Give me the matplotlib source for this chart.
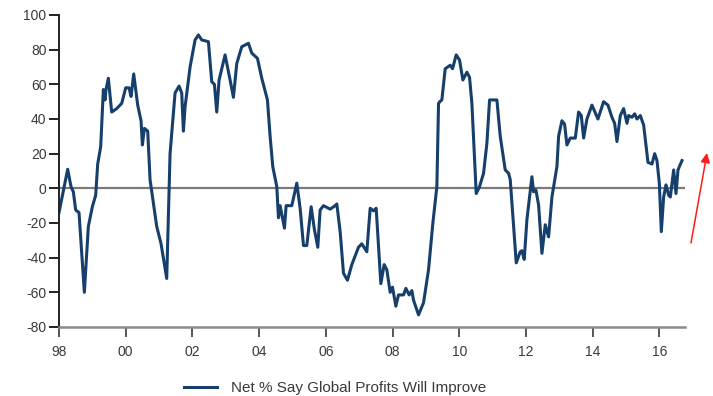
import matplotlib
matplotlib.use("Agg")
import matplotlib.pyplot as plt
from matplotlib import font_manager

# ── dati: anno decimale / saldo % ────────────────────────────
YEARS = [
    1998.00, 1998.26, 1998.36, 1998.43, 1998.50, 1998.60, 1998.76, 1998.88,
    1999.00, 1999.10, 1999.16, 1999.25, 1999.33, 1999.38, 1999.41, 1999.48,
    1999.58, 1999.73, 1999.88, 2000.00, 2000.10, 2000.16, 2000.24, 2000.36,
    2000.46, 2000.50, 2000.56, 2000.66, 2000.73, 2000.93, 2001.06, 2001.23,
    2001.33, 2001.48, 2001.60, 2001.68, 2001.73, 2001.78, 2001.93, 2002.08,
    2002.18, 2002.28, 2002.48, 2002.58, 2002.66, 2002.73, 2002.80, 2002.98,
    2003.13, 2003.23, 2003.33, 2003.48, 2003.68, 2003.78, 2003.95, 2004.08,
    2004.25, 2004.33, 2004.41, 2004.53, 2004.58, 2004.63, 2004.76, 2004.81,
    2004.98, 2005.13, 2005.23, 2005.33, 2005.43, 2005.56, 2005.66, 2005.76,
    2005.83, 2005.93, 2006.03, 2006.13, 2006.28, 2006.33, 2006.43, 2006.53,
    2006.65, 2006.78, 2006.98, 2007.08, 2007.23, 2007.33, 2007.43, 2007.51,
    2007.65, 2007.75, 2007.83, 2007.93, 2008.00, 2008.10, 2008.18, 2008.33,
    2008.40, 2008.50, 2008.58, 2008.63, 2008.78, 2008.93, 2009.08, 2009.21,
    2009.33, 2009.38, 2009.42, 2009.48, 2009.58, 2009.73, 2009.80, 2009.91,
    2010.01, 2010.11, 2010.23, 2010.31, 2010.38, 2010.51, 2010.61, 2010.73,
    2010.83, 2010.91, 2011.13, 2011.23, 2011.38, 2011.48, 2011.53, 2011.63,
    2011.71, 2011.83, 2011.88, 2011.95, 2012.03, 2012.18, 2012.23, 2012.30,
    2012.38, 2012.48, 2012.58, 2012.68, 2012.78, 2012.93, 2012.98, 2013.08,
    2013.16, 2013.23, 2013.33, 2013.48, 2013.58, 2013.66, 2013.73, 2013.83,
    2013.98, 2014.16, 2014.33, 2014.46, 2014.58, 2014.66, 2014.73, 2014.83,
    2014.93, 2015.03, 2015.08, 2015.18, 2015.26, 2015.33, 2015.43, 2015.53,
    2015.66, 2015.78, 2015.86, 2015.93, 2016.00, 2016.06, 2016.13, 2016.20,
    2016.28, 2016.33, 2016.43, 2016.50, 2016.56, 2016.60, 2016.68,
]
NET_PCT = [
    -14, 11, 1, -2, -12.5, -14, -60, -22,
    -10.6, -4, 14, 24, 57, 51, 57, 63.5,
    44, 46, 49, 58, 58, 53, 66, 48,
    39, 25, 34.6, 33, 5, -22, -32, -52,
    20, 55, 59, 55, 33, 47, 70, 85.6,
    88.5, 85.6, 84.6, 61.5, 60, 44, 62.5, 77,
    62.5, 52.5, 72, 81.7, 83.7, 78, 75, 63.5,
    51, 30, 12.5, 1, -17, -10, -23, -10,
    -10, 3, -11.5, -33, -33, -10.6, -24, -34,
    -12.5, -10, -11, -12, -10, -9, -25, -49,
    -53, -44, -34, -32, -36.6, -11.5, -13, -11.5,
    -55, -44, -47, -60, -57, -68, -61.5, -61.5,
    -57.7, -61.5, -59, -64.5, -73, -66, -47, -20,
    1, 49, 50, 51, 69, 71, 69, 77,
    74, 62.5, 67, 64, 49, -3, 1, 8.7,
    26, 51, 51, 30, 10.6, 8.7, 5, -22,
    -43, -36.6, -36, -41, -18, 6.7, -2, -1,
    -9.6, -37.5, -21, -28, -5, 12.5, 30, 39,
    37, 25, 29, 29, 44, 42, 29, 40,
    48, 40, 50, 48, 41, 37.5, 27, 42,
    46, 37.5, 42, 41, 43, 40, 42, 36.5,
    15, 14, 20, 16, 3, -25, -5, 2,
    -4, -5, 10.6, -3, 10.6, 12.5, 16,
]
X_TICKS = [1998, 2000, 2002, 2004, 2006, 2008, 2010, 2012, 2014, 2016]
X_LABELS = ["98", "00", "02", "04", "06", "08", "10", "12", "14", "16"]
Y_TICKS = [-80, -60, -40, -20, 0, 20, 40, 60, 80, 100]
SERIES_LABEL = "Net % Say Global Profits Will Improve"

NAVY = "#173f6b"
TEXT_GREY = "#3a3a3a"

# font stretto se disponibile
installed = {f.name for f in font_manager.fontManager.ttflist}
narrow = "Liberation Sans Narrow" if "Liberation Sans Narrow" in installed else "Liberation Sans"
plt.rcParams["font.family"] = [narrow, "DejaVu Sans"]
plt.rcParams["axes.unicode_minus"] = False

fig = plt.figure(figsize=(7.13, 3.96), dpi=100)
ax = fig.add_axes([59 / 713, 69 / 396, (685 - 59) / 713, (327 - 15) / 396])

ax.axhline(0, color="#7a7a7a", lw=1.6, zorder=1)
ax.plot(YEARS, NET_PCT, color=NAVY, lw=2.2, solid_joinstyle="round",
        label=SERIES_LABEL, zorder=2)

ax.set_xlim(1998, 2016.77)
ax.set_ylim(-80, 100)
ax.set_xticks(X_TICKS)
ax.set_xticklabels(X_LABELS)
ax.set_yticks(Y_TICKS)

for side in ("top", "right"):
    ax.spines[side].set_visible(False)
ax.spines["left"].set_color("#222222")
ax.spines["left"].set_linewidth(1.4)
ax.spines["bottom"].set_color("#8a8a8a")
ax.spines["bottom"].set_linewidth(1.8)

ax.tick_params(axis="y", direction="out", length=7, width=1.4, color="#222222",
               labelsize=10, labelcolor=TEXT_GREY, pad=2)
ax.tick_params(axis="x", direction="out", length=7, width=1.4, color="#555555",
               labelsize=10, labelcolor=TEXT_GREY, pad=6)

# legenda sotto il grafico
fig.legend(loc="center", bbox_to_anchor=(335 / 713, 1 - 388 / 396), frameon=False,
           fontsize=11, labelcolor=TEXT_GREY, handlelength=2.2, handletextpad=0.9)

# freccia rossa a destra
ax.annotate("", xy=(707 / 713, 1 - 153 / 396), xytext=(691 / 713, 1 - 243 / 396),
            xycoords="figure fraction", textcoords="figure fraction",
            arrowprops=dict(arrowstyle="-|>", color="#ff1a1a", lw=1.1,
                            mutation_scale=14, shrinkA=0, shrinkB=0),
            annotation_clip=False)

fig.savefig("out.png", dpi=100)
